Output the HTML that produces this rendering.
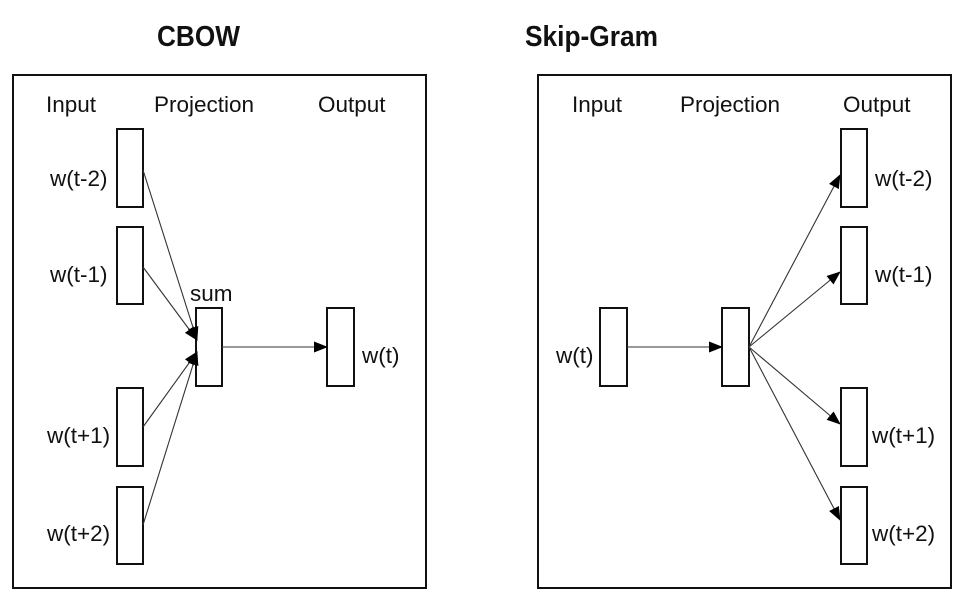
<!DOCTYPE html>
<html><head><meta charset="utf-8"><style>
html,body{margin:0;padding:0;background:#fff;}
svg{display:block;}
text{font-family:"Liberation Sans",Arial,sans-serif;fill:#111;}
</style></head><body>
<svg width="964" height="600" viewBox="0 0 964 600" xmlns="http://www.w3.org/2000/svg">
<defs>
<marker id="ah" markerWidth="14" markerHeight="11" refX="13" refY="5.5" orient="auto" markerUnits="userSpaceOnUse">
<path d="M0,0 L14,5.5 L0,11 z" fill="#000"/>
</marker>
</defs>
<text x="157" y="46" font-size="29" font-weight="bold" textLength="83" lengthAdjust="spacingAndGlyphs">CBOW</text>
<text x="525" y="46" font-size="29" font-weight="bold" textLength="133" lengthAdjust="spacingAndGlyphs">Skip-Gram</text>

<g fill="none" stroke="#111" stroke-width="2">
<rect x="13" y="75" width="413" height="513"/>
<rect x="538" y="75" width="413" height="513"/>
<rect x="117" y="129" width="26" height="78"/>
<rect x="117" y="227" width="26" height="77"/>
<rect x="117" y="388" width="26" height="78"/>
<rect x="117" y="487" width="26" height="77"/>
<rect x="196" y="308" width="26" height="78"/>
<rect x="327" y="308" width="27" height="78"/>
<rect x="600" y="308" width="27" height="78"/>
<rect x="722" y="308" width="27" height="78"/>
<rect x="841" y="129" width="26" height="78"/>
<rect x="841" y="227" width="26" height="77"/>
<rect x="841" y="388" width="26" height="78"/>
<rect x="841" y="487" width="26" height="77"/>
</g>

<g stroke="#333" stroke-width="1.1" fill="none" marker-end="url(#ah)">
<line x1="143" y1="170" x2="197" y2="340"/>
<line x1="143" y1="267" x2="197" y2="340"/>
<line x1="143" y1="427" x2="197" y2="352"/>
<line x1="143" y1="525" x2="197" y2="352"/>
<line x1="222" y1="347" x2="327" y2="347"/>
<line x1="627" y1="347" x2="722" y2="347"/>
<line x1="749" y1="347" x2="840" y2="175"/>
<line x1="749" y1="347" x2="840" y2="272"/>
<line x1="749" y1="347" x2="840" y2="424"/>
<line x1="749" y1="347" x2="840" y2="520"/>
</g>

<g font-size="22.5">
<text x="46" y="112">Input</text>
<text x="154" y="112">Projection</text>
<text x="318" y="112">Output</text>
<text x="572" y="112">Input</text>
<text x="680" y="112">Projection</text>
<text x="843" y="112">Output</text>
<text x="50" y="186">w(t-2)</text>
<text x="50" y="282">w(t-1)</text>
<text x="47" y="443">w(t+1)</text>
<text x="47" y="541">w(t+2)</text>
<text x="190" y="301">sum</text>
<text x="362" y="363">w(t)</text>
<text x="556" y="363">w(t)</text>
<text x="875" y="186">w(t-2)</text>
<text x="875" y="282">w(t-1)</text>
<text x="872" y="443">w(t+1)</text>
<text x="872" y="541">w(t+2)</text>
</g>
</svg>
</body></html>
